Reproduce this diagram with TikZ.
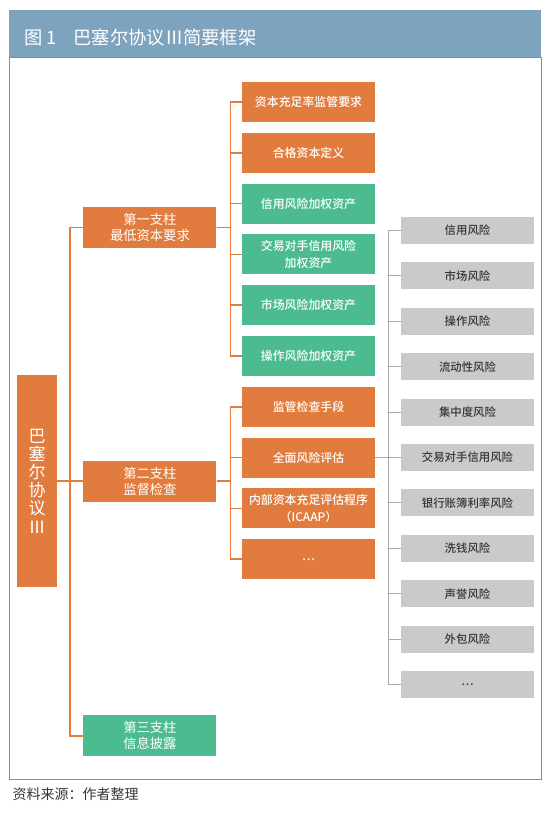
\documentclass[tikz,border=0pt]{standalone}
\usepackage{fontspec}
\usepackage{xcolor}
\usepackage{tikz}
\usetikzlibrary{positioning}
\setmainfont{Noto Sans CJK SC}
\newfontfamily\cjkmed{Noto Sans CJK SC Medium}
\definecolor{pillarorange}{RGB}{226,123,62}
\definecolor{pillargreen}{RGB}{76,187,143}
\definecolor{riskgray}{RGB}{201,202,204}
\definecolor{headblue}{RGB}{126,163,190}
\definecolor{framegray}{RGB}{140,140,140}
\definecolor{linegray}{RGB}{168,168,168}
\definecolor{darktext}{RGB}{55,55,55}

\begin{document}
\begin{tikzpicture}[
    x=1pt, y=-1pt,
    pillar/.style={
        fill=pillarorange,
        text=white,
        minimum width=133pt,
        minimum height=41pt,
        inner sep=0pt,
        align=center,
        font=\fontsize{13.3}{16}\selectfont
    },
    item/.style={
        fill=pillarorange,
        text=white,
        minimum width=133pt,
        minimum height=40pt,
        inner sep=0pt,
        align=center,
        font=\cjkmed\fontsize{11.9}{17}\selectfont
    },
    risk/.style={
        fill=riskgray,
        text=darktext,
        minimum width=133pt,
        minimum height=27pt,
        inner sep=0pt,
        font=\cjkmed\fontsize{11.4}{13}\selectfont
    },
    link/.style={draw=pillarorange, line width=1.5pt},
    glink/.style={draw=linegray, line width=1pt}
]
\useasboundingbox (0,0) rectangle (550,814);

% header and frame
\fill[headblue] (9,10) rectangle (541,57);
\draw[framegray, line width=0.8pt] (9,57) rectangle (541,779);
\node[anchor=west, text=white, font=\fontsize{18.3}{20}\selectfont] (title) at (21,37.5)
    {图 1\hspace{0.9em}巴塞尔协议Ⅲ简要框架};

% accord and pillars
\node[fill=pillarorange, text=white, minimum width=40pt, minimum height=212pt,
      inner sep=0pt, align=center, font=\fontsize{17}{18.2}\selectfont] (basel) at (37,481)
    {巴\\塞\\尔\\协\\议\\Ⅲ};
\node[pillar, right=26pt of basel] (pillar2) {第二支柱\\监督检查};
\node[pillar, above=212pt of pillar2] (pillar1) {第一支柱\\最低资本要求};
\node[pillar, fill=pillargreen, below=213.5pt of pillar2] (pillar3) {第三支柱\\信息披露};

% pillar items
\node[item] (car) at (308.5,102) {资本充足率监管要求};
\node[item, below=10.4pt of car] (capdef) {合格资本定义};
\node[item, fill=pillargreen, below=10.4pt of capdef] (crwa) {信用风险加权资产};
\node[item, fill=pillargreen, below=10.4pt of crwa] (ccrwa) {交易对手信用风险\\加权资产};
\node[item, fill=pillargreen, below=10.4pt of ccrwa] (mrwa) {市场风险加权资产};
\node[item, fill=pillargreen, below=10.4pt of mrwa] (orwa) {操作风险加权资产};
\node[item, below=10.4pt of orwa] (review) {监管检查手段};
\node[item, below=10.4pt of review] (overall) {全面风险评估};
\node[item, below=10.4pt of overall] (icaap) {内部资本充足评估程序\\（ICAAP）};
\node[item, below=10.4pt of icaap] (more) {…};

% risk list
\node[risk] (credit) at (467.5,230.5) {信用风险};
\node[risk, below=18pt of credit] (market) {市场风险};
\node[risk, below=18pt of market] (oper) {操作风险};
\node[risk, below=18pt of oper] (liquid) {流动性风险};
\node[risk, below=18pt of liquid] (concen) {集中度风险};
\node[risk, below=18pt of concen] (counter) {交易对手信用风险};
\node[risk, below=18pt of counter] (irrbb) {银行账簿利率风险};
\node[risk, below=18pt of irrbb] (launder) {洗钱风险};
\node[risk, below=18pt of launder] (reput) {声誉风险};
\node[risk, below=18pt of reput] (outsrc) {外包风险};
\node[risk, below=18pt of outsrc] (riskmore) {…};

% connectors
\draw[link] (basel.east) -- (pillar2.west);
\draw[link] (pillar1.west) -- ++(-13,0) |- (pillar3.west);

\draw[link] (pillar1.east) -- ++(14,0) |- (car.west);
\draw[link] (pillar1.east) -- ++(14,0) |- (capdef.west);
\draw[link] (pillar1.east) -- ++(14,0) |- (crwa.west);
\draw[link] (pillar1.east) -- ++(14,0) |- (ccrwa.west);
\draw[link] (pillar1.east) -- ++(14,0) |- (mrwa.west);
\draw[link] (pillar1.east) -- ++(14,0) |- (orwa.west);

\draw[link] (pillar2.east) -- ++(14,0) |- (review.west);
\draw[link] (pillar2.east) -- ++(14,0) |- (overall.west);
\draw[link] (pillar2.east) -- ++(14,0) |- (icaap.west);
\draw[link] (pillar2.east) -- ++(14,0) |- (more.west);

\draw[glink] (overall.east) -- ++(13,0) |- (credit.west);
\draw[glink] (overall.east) -- ++(13,0) |- (market.west);
\draw[glink] (overall.east) -- ++(13,0) |- (oper.west);
\draw[glink] (overall.east) -- ++(13,0) |- (liquid.west);
\draw[glink] (overall.east) -- ++(13,0) |- (concen.west);
\draw[glink] (overall.east) -- ++(13,0) |- (counter.west);
\draw[glink] (overall.east) -- ++(13,0) |- (irrbb.west);
\draw[glink] (overall.east) -- ++(13,0) |- (launder.west);
\draw[glink] (overall.east) -- ++(13,0) |- (reput.west);
\draw[glink] (overall.east) -- ++(13,0) |- (outsrc.west);
\draw[glink] (overall.east) -- ++(13,0) |- (riskmore.west);

\node[anchor=west, text=darktext, font=\fontsize{14}{16}\selectfont] (source) at (9,794)
    {资料来源：作者整理};
\end{tikzpicture}
\end{document}
